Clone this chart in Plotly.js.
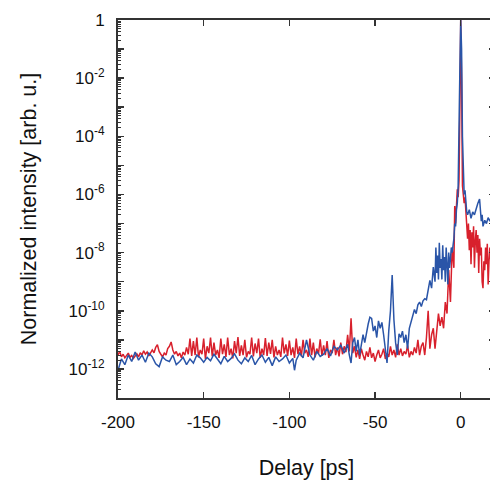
<!DOCTYPE html>
<html>
<head>
<meta charset="utf-8">
<script src="https://cdn.plot.ly/plotly-3.0.1.min.js"></script>
<style>html,body{margin:0;padding:0;overflow:hidden;background:#fff;}#chart{width:496px;height:485px;}</style>
</head>
<body>
<div id="chart"></div>
<script>
// Red series (delay in ps, normalized intensity)
const redX = [
-200,-199,-198,-197,-196,-195,-194,-193,-192,-191,-190,-189,-188,-187,-186,-185,-184,-183,-182,-181,
-180,-179,-178,-177,-176,-175,-174,-173,-172,-171,-170,-169,-168,-167,-166,-165,-164,-163,-162,-161,
-160,-159,-158,-157,-156,-155,-154,-153,-152,-151,-150,-149,-148,-147,-146,-145,-144,-143,-142,-141,
-140,-139,-138,-137,-136,-135,-134,-133,-132,-131,-130,-129,-128,-127,-126,-125,-124,-123,-122,-121,
-120,-119,-118,-117,-116,-115,-114,-113,-112,-111,-110,-109,-108,-107,-106,-105,-104,-103,-102,-101,
-100,-99,-98,-97,-96,-95,-94,-93,-92,-91,-90,-89,-88,-87,-86,-85,-84,-83,-82,-81,
-80,-79,-78,-77,-76,-75,-74,-73,-72,-71,-70,-69,-68,-67,-66,-65,-64,-63,-62,-61,
-60,-59,-58,-57,-56,-55,-54,-53,-52,-51,-50,-49,-48,-47,-46,-45,-44,-43,-42,-41,
-40,-39,-38,-37,-36,-35,-34,-33,-32,-31,-30,-29,-28,-27,-26,-25,-24,-23,-22,-21,
-20,-19,-18,-17,-16,-15,-14,-13,-12,-11,-10,-9,-8,-7,-6,-5,-4,-3.5,-3,-2.5,
-2,-1.5,-1,-0.5,0,0.5,1,1.5,2,2.5,3,3.5,4,4.5,5,5.5,6,6.5,7,7.5,
8,8.5,9,9.5,10,10.5,11,11.5,12,12.5,13,13.5,14,14.5,15,15.5,16,16.5,17,17.5,
18,18.5,19,19.5,20];
const redY = [
3e-12,4e-12,2.6e-12,3.2e-12,2.4e-12,2.8e-12,3.5e-12,2.5e-12,2.9e-12,2.3e-12,2.7e-12,3.3e-12,2.6e-12,3.6e-12,3e-12,4.2e-12,3.2e-12,3.8e-12,2.8e-12,3.4e-12,
4.5e-12,3.6e-12,5.5e-12,6.8e-12,4e-12,3.2e-12,2.6e-12,3.5e-12,3e-12,5e-12,6e-12,8.5e-12,4.5e-12,3.2e-12,4e-12,2.8e-12,3.5e-12,2.4e-12,3.8e-12,3e-12,
5.5e-12,3.2e-12,1.1e-11,2.8e-12,9e-12,3e-12,1.2e-11,2.5e-12,4.5e-12,3.2e-12,1.1e-11,2.2e-12,6e-12,3.5e-12,1.2e-11,2.7e-12,8e-12,3e-12,4.5e-12,2.4e-12,
1.1e-11,3.2e-12,7e-12,2.6e-12,1.2e-11,3e-12,5e-12,2.3e-12,9e-12,3.5e-12,1.25e-11,2.8e-12,6.5e-12,3e-12,1e-11,2.5e-12,4e-12,3.2e-12,1.2e-11,2.7e-12,
7.5e-12,3.5e-12,1.1e-11,2.4e-12,5e-12,3e-12,1.15e-11,2.8e-12,8e-12,3.3e-12,1e-11,2.5e-12,6e-12,3e-12,4.5e-12,2.6e-12,1.2e-11,3.4e-12,7e-12,2.8e-12,
9.5e-12,3e-12,5.5e-12,2.4e-12,1.1e-11,3.2e-12,6e-12,2.7e-12,1e-11,3.5e-12,4.5e-12,2.6e-12,1.1e-11,3e-12,8e-12,2.5e-12,5e-12,3.3e-12,1.05e-11,2.8e-12,
6.5e-12,3e-12,9e-12,2.4e-12,4.5e-12,3.5e-12,1e-11,3e-12,5.5e-12,2.7e-12,8e-12,3.2e-12,6e-12,3.8e-12,1.5e-11,4e-12,5.5e-11,3.5e-12,6e-12,2.5e-12,
4.5e-12,2.2e-12,5e-12,3e-12,2e-12,4e-12,2.6e-12,5.5e-12,2.4e-12,3.5e-12,1.8e-12,3e-12,4.5e-12,2.4e-12,3.2e-12,5e-12,2.2e-12,3.5e-12,2.6e-12,6e-12,
3e-12,4.5e-12,2.5e-12,7e-12,3e-12,5e-12,2.8e-12,4e-12,3.2e-12,6.5e-12,2.5e-12,4e-12,3e-12,5.5e-12,3.5e-12,1e-11,3e-12,6e-12,8e-12,3e-12,
1.2e-11,1e-10,5e-12,1.5e-11,2.5e-11,5e-12,2e-11,8e-11,3e-11,6e-11,2.5e-11,2e-10,8e-11,2.5e-9,2e-10,1.5e-8,3e-9,4e-7,1e-7,5e-7,
1.5e-6,8e-7,3e-6,1e-3,1,1e-2,2e-6,1e-6,5e-7,8e-7,2e-7,5e-8,3e-8,1e-7,1.2e-8,6e-8,4e-9,5e-8,1.5e-8,8e-8,
3e-9,2.5e-8,6e-8,1e-8,4e-8,2e-9,3e-8,8e-9,1.5e-8,1e-9,6e-10,5e-9,2.5e-9,1.5e-8,4e-9,2e-8,8e-10,5e-9,1.5e-8,6e-9,
3e-8,1e-8,4e-9,2e-8,1e-8];

// Blue series
const blueX = [
-200,-198,-196,-194,-192,-190,-188,-186,-184,-182,-180,-178,-176,-174,-172,-170,-168,-166,-164,-162,
-160,-158,-156,-154,-152,-150,-148,-146,-144,-142,-140,-138,-136,-134,-132,-130,-128,-126,-124,-122,
-120,-118,-116,-114,-112,-110,-108,-106,-104,-102,-100,-98,-97,-96,-94,-92,-90,-88,-86,-84,
-82,-80,-78,-76,-74,-72,-70,-68,-66,-65,-64,-63,-62,-61,-60,-59,-58,-57,-56,-55,
-54,-53,-52,-51,-50,-49,-48,-47,-46,-45,-44,-43,-42,-41,-40,-39,-38,-37,-36,-35,
-34,-33,-32,-31,-30,-29,-28,-27,-26,-25,-24,-23,-22,-21,-20,-19,-18,-17,-16,-15,
-14.5,-14,-13.5,-13,-12.5,-12,-11.5,-11,-10.5,-10,-9.5,-9,-8.5,-8,-7.5,-7,-6.5,-6,-5.5,-5,
-4,-3.5,-3,-2.5,-2,-1.5,-1,-0.5,0,0.5,1,1.5,2,2.5,3,3.5,4,5,6,7,
8,9,10,11,11.5,12,12.5,13,14,15,16,17,18,19,20];
const blueY = [
9e-13,2.2e-12,1.4e-12,3e-12,1.8e-12,3.8e-12,2e-12,3e-12,1.7e-12,3.5e-12,2.6e-12,1.5e-12,1.2e-12,2.6e-12,2e-12,1.8e-12,3e-12,1.4e-12,1.8e-12,2.5e-12,
1.4e-12,2.2e-12,1.6e-12,3e-12,2.4e-12,1.7e-12,2.5e-12,1.9e-12,3.2e-12,2.1e-12,1.5e-12,2.7e-12,1.8e-12,2.3e-12,3.3e-12,2e-12,1.5e-12,2.4e-12,1.8e-12,2.9e-12,
1.4e-12,2.2e-12,3e-12,1.7e-12,2.5e-12,1.3e-12,2.6e-12,1.8e-12,2.2e-12,3e-12,1.6e-12,2.3e-12,9e-13,2e-12,3.5e-12,2.4e-12,1e-11,3e-12,2e-12,4e-12,
2.7e-12,3.2e-12,5e-12,2.8e-12,6e-12,4.5e-12,6.5e-12,3.5e-12,7e-12,3e-12,1.6e-12,8e-12,1.2e-11,4e-12,1e-11,3e-12,6e-12,1.5e-11,8e-12,2e-11,
3.5e-11,6e-11,5.5e-11,2e-11,3e-11,1.2e-11,4.5e-11,2.5e-11,4e-11,1.5e-11,5e-12,1.6e-12,2e-11,1e-10,1.7e-9,5e-11,8e-12,3e-12,1.6e-11,1.2e-11,
2e-11,8e-12,1.5e-11,5e-12,2.5e-11,4e-11,6e-11,1.1e-10,8e-11,1.6e-10,2e-10,1.4e-10,2.2e-10,2.6e-10,2.4e-10,5e-10,1.1e-9,6e-10,3.2e-9,1e-9,
1.5e-8,2e-9,8e-9,1.2e-9,2.2e-8,3e-9,6e-9,1.2e-9,1.8e-8,2.5e-9,7e-9,1e-9,1.5e-8,4e-9,8e-10,1e-8,3e-9,6e-9,1.5e-8,1e-8,
3e-8,1e-7,8e-8,3e-7,5e-7,2e-6,5e-5,0.02,1,0.1,1e-4,3e-6,1e-6,1.4e-6,5e-7,2.5e-7,2e-7,3e-7,1.5e-7,2.5e-7,
2e-7,3.5e-7,5e-7,7e-7,3e-7,1.2e-7,2e-7,8e-8,1.3e-7,1e-7,1.6e-7,1.2e-7,1.8e-7,1.5e-7,1.3e-7];

const xTickVals = [-200,-150,-100,-50,0];
const xTickText = ['-200','-150','-100','-50','0'];
const yTickVals = [1e-13,1e-12,1e-11,1e-10,1e-9,1e-8,1e-7,1e-6,1e-5,1e-4,1e-3,1e-2,1e-1,1];
const yTickText = ['','10<sup>-12</sup>','','10<sup>-10</sup>','','10<sup>-8</sup>','','10<sup>-6</sup>','','10<sup>-4</sup>','','10<sup>-2</sup>','','1'];

const axisColor = '#333';
const font = 'Liberation Sans, Arial, sans-serif';

const traces = [
  {x: redX, y: redY, type: 'scatter', mode: 'lines', line: {color: '#d8202c', width: 1.5}, hoverinfo: 'skip'},
  {x: blueX, y: blueY, type: 'scatter', mode: 'lines', line: {color: '#2a55a8', width: 1.5}, hoverinfo: 'skip'}
];

const layout = {
  width: 496, height: 485,
  margin: {l: 118, r: 1, t: 20, b: 87},
  paper_bgcolor: '#fff', plot_bgcolor: '#fff',
  showlegend: false,
  font: {family: font, color: '#111', size: 17},
  xaxis: {
    range: [-200, 20], tickmode: 'array', tickvals: xTickVals, ticktext: xTickText,
    ticks: 'inside', ticklen: 6, tickwidth: 1.5, tickcolor: axisColor,
    showline: true, linecolor: axisColor, linewidth: 2, mirror: 'all',
    showgrid: false, zeroline: false, ticklabelstandoff: 8,
    tickfont: {family: font, size: 17, color: '#111'},
    title: {text: 'Delay [ps]', font: {family: font, size: 21.5, color: '#111'}, standoff: 29}
  },
  yaxis: {
    type: 'log', range: [-13, 0], tickmode: 'array', tickvals: yTickVals, ticktext: yTickText,
    ticks: 'inside', ticklen: 6, tickwidth: 1.5, tickcolor: axisColor,
    minor: {dtick: 'D1', ticks: 'inside', ticklen: 3, tickwidth: 1, tickcolor: axisColor, showgrid: false},
    showline: true, linecolor: axisColor, linewidth: 2, mirror: 'all',
    showgrid: false, zeroline: false, ticklabelstandoff: 8,
    tickfont: {family: font, size: 17, color: '#111'},
    title: {text: 'Normalized intensity [arb. u.]', font: {family: font, size: 21.5, color: '#111'}, standoff: 26}
  }
};

Plotly.newPlot('chart', traces, layout, {staticPlot: true, displayModeBar: false});
</script>
</body>
</html>
